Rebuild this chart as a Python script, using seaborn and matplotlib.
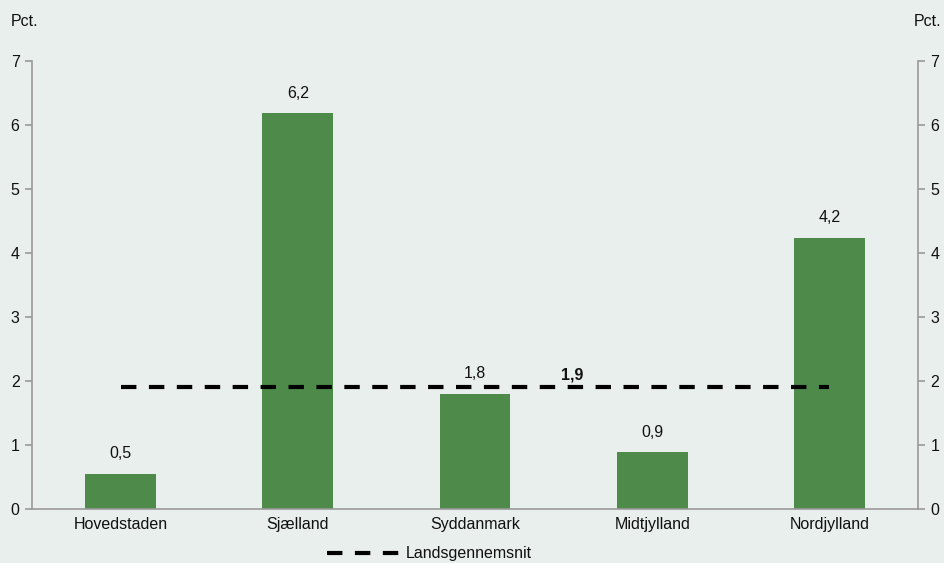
import pandas as pd
import seaborn as sns
import matplotlib.pyplot as plt
import numpy as np

# Data
regions = ["Hovedstaden", "Sjælland", "Syddanmark", "Midtjylland", "Nordjylland"]
values = [0.55, 6.18, 1.8, 0.89, 4.24]
labels = ["0,5", "6,2", "1,8", "0,9", "4,2"]
avg_value = 1.9
avg_label = "1,9"

df = pd.DataFrame({"region": regions, "value": values})

bg = "#E9EFEC"
green = "#4E8B4B"
axcol = "#999999"

sns.set_style("white")
plt.rcParams['font.family'] = ['Liberation Sans', 'DejaVu Sans']
plt.rcParams['font.size'] = 11.5
plt.rcParams['text.color'] = "#111111"
plt.rcParams['xtick.color'] = "#111111"
plt.rcParams['ytick.color'] = "#111111"

fig = plt.figure(figsize=(9.44, 5.63), dpi=100, facecolor=bg)
ax = fig.add_axes([0.0339, 0.0959, 0.9386, 0.7958], facecolor=bg)

sns.barplot(data=df, x="region", y="value", color=green, width=0.4, saturation=1,
            edgecolor="none", ax=ax)

# Landsgennemsnit line
ax.plot([0, 4], [avg_value, avg_value], color="black", lw=3, ls=(0, (3.7, 3)),
        label="Landsgennemsnit", zorder=3)
ax.text(2.55, avg_value + 0.08, avg_label, ha="center", va="bottom", fontweight="bold")

# Value labels
for i, (v, lab) in enumerate(zip(values, labels)):
    ax.annotate(lab, (i, v), xytext=(0, 9), textcoords="offset points",
                ha="center", va="bottom")

ax.set_xlim(-0.5, 4.5)
ax.set_ylim(0, 7)
ax.set_yticks(range(0, 8))
ax.set_xlabel("")
ax.set_ylabel("")

ax.spines["top"].set_visible(False)
for side in ["left", "right", "bottom"]:
    ax.spines[side].set_color(axcol)
    ax.spines[side].set_linewidth(1.2)

ax.set_xticks(range(5))
ax.set_xticklabels(regions)
ax.tick_params(axis="x", length=0, pad=6)
# small ticks between categories
ax.set_xticks(np.arange(-0.5, 5, 1), minor=True)
ax.tick_params(axis="x", which="minor", length=5, color=axcol, width=1.2, direction="in")
ax.tick_params(axis="y", left=True, right=True, labelleft=True, labelright=True,
               length=5, color=axcol, width=1.2, direction="out", pad=4)

fig.text(0.011, 0.962, "Pct.", ha="left", va="center")
fig.text(0.997, 0.962, "Pct.", ha="right", va="center")

leg = fig.legend(*ax.get_legend_handles_labels(), loc="center", bbox_to_anchor=(0.455, 0.016),
                 frameon=False, handlelength=4.6, borderaxespad=0, handletextpad=0.3)

fig.savefig("out.png", dpi=100, facecolor=bg)
